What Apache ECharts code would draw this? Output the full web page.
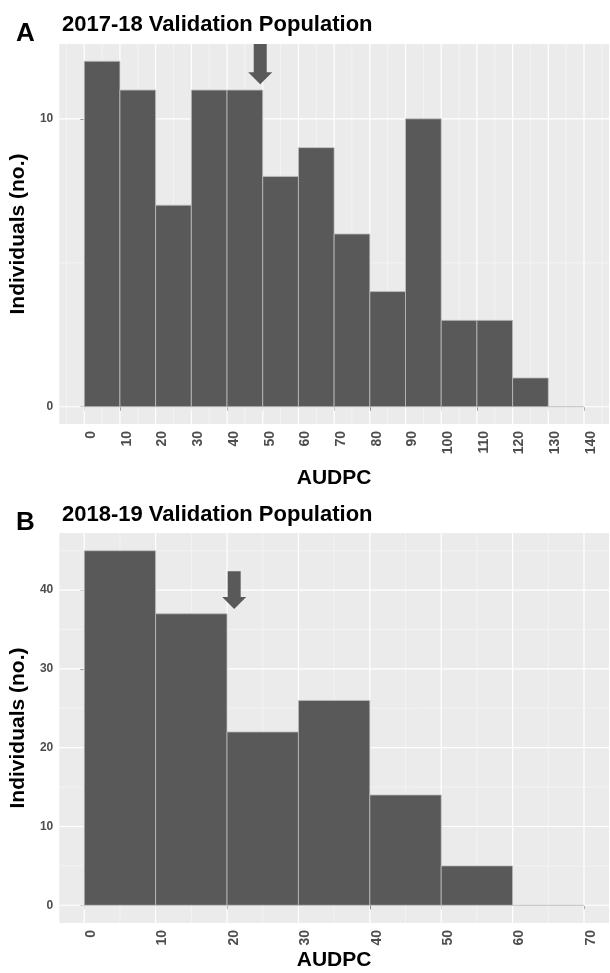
<!DOCTYPE html>
<html><head><meta charset="utf-8">
<script src="https://cdn.jsdelivr.net/npm/echarts@6/dist/echarts.min.js"></script>
<style>html,body{margin:0;padding:0;background:#fff}#c{width:610px;height:973px}</style>
</head><body><div id="c"></div>
<script>
// ---- data ----
const binWidth = 10;
const binStartsA = [0,10,20,30,40,50,60,70,80,90,100,110,120,130];
const countsA    = [12,11,7,11,11,8,9,6,4,10,3,3,1,0];
const binStartsB = [0,10,20,30,40,50,60];
const countsB    = [45,37,22,26,14,5,0];
const xTicksA = [0,10,20,30,40,50,60,70,80,90,100,110,120,130,140];
const xMinorA = [-5,5,15,25,35,45,55,65,75,85,95,105,115,125,135,145];
const yTicksA = [0,10];
const yMinorA = [5];
const xTicksB = [0,10,20,30,40,50,60,70];
const xMinorB = [5,15,25,35,45,55,65];
const yTicksB = [0,10,20,30,40];
const yMinorB = [5,15,25,35,45];
const xRangeA = [-7,147], yRangeA = [-0.6,12.6];
const xRangeB = [-3.5,73.5], yRangeB = [-2.25,47.25];
const arrowA = [49.3, 12.6, 11.2];   // x, tail, tip
const arrowB = [21, 42.4, 37.6];
const titleA = '2017-18 Validation Population';
const titleB = '2018-19 Validation Population';
const xName = 'AUDPC', yName = 'Individuals (no.)';

// ---- styles ----
const SANS = "'Liberation Sans',Arial,sans-serif";
const BAR = '#595959', OUTLINE = '#BEBEBE';

function xAxisCfg(idx, range, ticks, gap) {
  return {
    type: 'value', gridIndex: idx, min: range[0], max: range[1],
    axisLine: {show: false},
    axisTick: {show: true, customValues: ticks, length: 4, lineStyle: {color: '#333', width: 1}},
    axisLabel: {customValues: ticks, rotate: 90, margin: 7, verticalAlign: 'top',
      fontSize: 14, fontWeight: 'bold', color: '#4D4D4D', fontFamily: SANS},
    splitLine: {show: false},
    name: xName, nameLocation: 'middle', nameGap: gap,
    nameTextStyle: {fontSize: 21, fontWeight: 'bold', color: '#000', fontFamily: SANS}
  };
}
function yAxisCfg(idx, range, ticks) {
  return {
    type: 'value', gridIndex: idx, min: range[0], max: range[1],
    axisLine: {show: false},
    axisTick: {show: true, customValues: ticks, length: 4, lineStyle: {color: '#333', width: 1}},
    axisLabel: {customValues: ticks, margin: 6,
      fontSize: 12, fontWeight: 'bold', color: '#4D4D4D', fontFamily: SANS},
    splitLine: {show: false},
    name: yName, nameLocation: 'middle', nameGap: 30, nameRotate: 90,
    nameTextStyle: {fontSize: 21, fontWeight: 'bold', color: '#000', fontFamily: SANS}
  };
}
function gridLines(idx, xMaj, xMin, yMaj, yMin) {
  const data = [];
  xMin.forEach(v => data.push([v, 0, 0]));
  yMin.forEach(v => data.push([v, 1, 0]));
  xMaj.forEach(v => data.push([v, 0, 1]));
  yMaj.forEach(v => data.push([v, 1, 1]));
  return {
    type: 'custom', xAxisIndex: idx, yAxisIndex: idx, z: 1, silent: true,
    encode: {x: -1, y: -1},
    data,
    renderItem(params, api) {
      const v = api.value(0), ax = api.value(1), maj = api.value(2);
      const cs = params.coordSys;
      let shape;
      if (ax === 0) {
        const x = api.coord([v, 0])[0];
        shape = {x1: x, y1: cs.y, x2: x, y2: cs.y + cs.height};
      } else {
        const y = api.coord([0, v])[1];
        shape = {x1: cs.x, y1: y, x2: cs.x + cs.width, y2: y};
      }
      return {type: 'line', shape,
        style: {stroke: maj ? '#FFFFFF' : '#F7F7F7', lineWidth: maj ? 1.2 : 0.7}};
    }
  };
}
function bars(idx, starts, counts) {
  return {
    type: 'custom', xAxisIndex: idx, yAxisIndex: idx, z: 2, silent: true,
    data: starts.map((s, i) => [s, counts[i]]),
    renderItem(params, api) {
      const s = api.value(0), c = api.value(1);
      const p0 = api.coord([s, c]), p1 = api.coord([s + binWidth, 0]);
      if (c === 0) {
        return {type: 'line', shape: {x1: p0[0], y1: p1[1], x2: p1[0], y2: p1[1]},
          style: {stroke: OUTLINE, lineWidth: 1}};
      }
      return {type: 'rect',
        shape: {x: p0[0], y: p0[1], width: p1[0] - p0[0], height: p1[1] - p0[1]},
        style: {fill: BAR, stroke: OUTLINE, lineWidth: 0.8}};
    }
  };
}
function arrow(idx, a) {
  return {
    type: 'custom', xAxisIndex: idx, yAxisIndex: idx, z: 3, silent: true,
    data: [a],
    renderItem(params, api) {
      const pT = api.coord([api.value(0), api.value(1)]);
      const pP = api.coord([api.value(0), api.value(2)]);
      const cx = pT[0], sw = 6.5, hw = 12, hl = 12;
      return {type: 'polygon', shape: {points: [
        [cx - sw, pT[1]], [cx + sw, pT[1]], [cx + sw, pP[1] - hl], [cx + hw, pP[1] - hl],
        [cx, pP[1]], [cx - hw, pP[1] - hl], [cx - sw, pP[1] - hl]]},
        style: {fill: BAR}};
    }
  };
}

const chart = echarts.init(document.getElementById('c'), null, {renderer: 'canvas'});
chart.setOption({
  backgroundColor: '#fff',
  animation: false,
  title: [
    {text: 'A', left: 11, top: 16, textStyle: {fontSize: 26, fontWeight: 'bold', color: '#000', fontFamily: SANS}},
    {text: titleA, left: 57, top: 9, textStyle: {fontSize: 22, fontWeight: 'bold', color: '#000', fontFamily: SANS}},
    {text: 'B', left: 11, top: 505, textStyle: {fontSize: 26, fontWeight: 'bold', color: '#000', fontFamily: SANS}},
    {text: titleB, left: 57, top: 499, textStyle: {fontSize: 22, fontWeight: 'bold', color: '#000', fontFamily: SANS}}
  ],
  grid: [
    {left: 59, top: 44, width: 550, height: 380, show: true, backgroundColor: '#EBEBEB', borderWidth: 0},
    {left: 59, top: 533, width: 550, height: 390, show: true, backgroundColor: '#EBEBEB', borderWidth: 0}
  ],
  xAxis: [xAxisCfg(0, xRangeA, xTicksA, 44), xAxisCfg(1, xRangeB, xTicksB, 27)],
  yAxis: [yAxisCfg(0, yRangeA, yTicksA), yAxisCfg(1, yRangeB, yTicksB)],
  series: [
    gridLines(0, xTicksA, xMinorA, yTicksA, yMinorA),
    gridLines(1, xTicksB, xMinorB, yTicksB, yMinorB),
    bars(0, binStartsA, countsA),
    bars(1, binStartsB, countsB),
    arrow(0, arrowA),
    arrow(1, arrowB)
  ]
});
</script></body></html>
